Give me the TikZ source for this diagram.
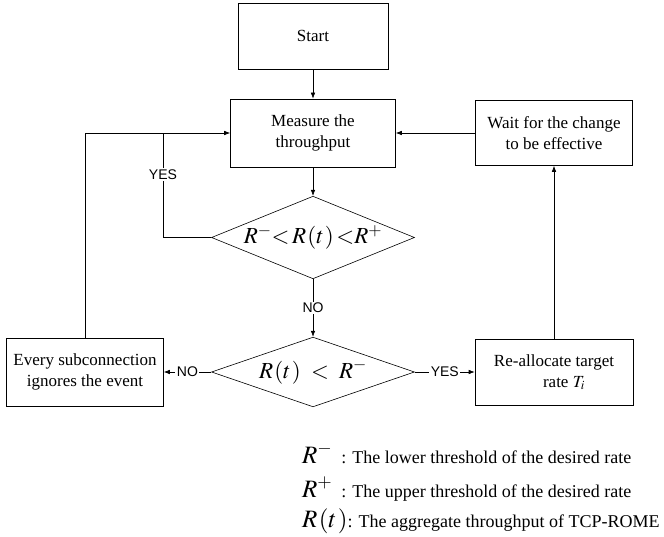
\documentclass[tikz,border=0pt]{standalone}
\usepackage{mathptmx}
\usepackage[no-math]{fontspec}
\setmainfont{Liberation Serif}
\setsansfont{Liberation Sans}
\usetikzlibrary{arrows.meta,shapes.geometric}

\tikzset{
  box/.style={draw, line width=0.6pt, align=center, inner sep=0pt, font=\fontsize{17}{21}\selectfont},
  decision/.style={draw, diamond, line width=0.6pt, inner sep=0pt, aspect=2.36, minimum width=203pt},
  line/.style={line width=0.6pt},
  flow/.style={line width=0.6pt, -{Latex[length=6pt,width=4.5pt]}},
  yesno/.style={fill=white, inner sep=1.5pt, font=\sffamily\fontsize{14}{14}\selectfont},
  legend/.style={anchor=base west, inner sep=0pt, font=\fontsize{18}{20}\selectfont},
}
\newcommand{\bigmath}[1]{{\fontsize{23}{23}\selectfont$#1$}}
\newcommand{\legmath}[1]{{\fontsize{25}{25}\selectfont$#1$}}
\newcommand{\Rt}{R\mkern1mu(t\mkern1mu)}

\begin{document}
\begin{tikzpicture}[x=1pt, y=-1pt]
		\useasboundingbox (0,0) rectangle (664,537);

		% boxes
		\node[box, minimum width=150pt, minimum height=66pt] (start) at (313, 36) {Start};
		\node[box, minimum width=165pt, minimum height=68pt] (measure) at (313, 133) {Measure the\\throughput};
		\node[box, minimum width=157pt, minimum height=65pt] (wait) at (554, 133) {Wait for the change\\to be effective};
		\node[box, minimum width=157pt, minimum height=68pt] (ignore) at (85, 372) {Every subconnection\\ignores the event};
		\node[box, minimum width=158pt, minimum height=66pt] (realloc) at (554, 372) {Re-allocate target\\\hspace*{20pt}rate $T_{i}$};

		% decisions
		\node[decision] (inrange) at (313, 237.5) {\bigmath{R^{-}\!\!<\!\Rt\!<\!\!R^{+}}};
		\node[decision] (below) at (313, 372) {\bigmath{\Rt\;<\;R^{-}}};

		\coordinate (yesturn) at (163, 133);

		% connectors
		\draw[flow] (start) -- (measure);
		\draw[flow] (measure) -- (inrange);
		\draw[flow] (inrange) -- node[yesno] {NO} (below);
		\draw[line] (inrange.west) -| node[yesno, pos=0.8] {YES} (yesturn);
		\draw[flow] (ignore.north) |- (measure.west);
		\draw[flow] (below) -- node[yesno] {NO} (ignore);
		\draw[flow] (below) -- node[yesno] {YES} (realloc);
		\draw[flow] (realloc) -- (wait);
		\draw[flow] (wait) -- (measure);

		% legend
		\node[legend] (legminus) at (302, 463) {\legmath{R^{-}}\hspace{9pt}: The lower threshold of the desired rate};
		\node[legend] (legplus) at (302, 497) {\legmath{R^{+}}\hspace{9pt}: The upper threshold of the desired rate};
		\node[legend] (legrate) at (302, 527) {\legmath{\Rt}: The aggregate throughput of TCP-ROME};
\end{tikzpicture}
\end{document}
